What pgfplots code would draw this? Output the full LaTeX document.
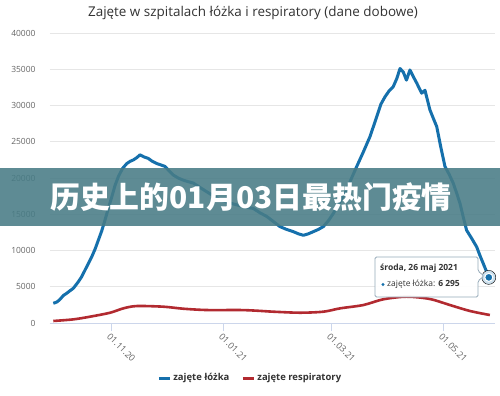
\documentclass[border=0pt]{standalone}
\usepackage{pgfplots}
\pgfplotsset{compat=1.18}
\usepackage{fontspec}
\setmainfont{Open Sans}
\newfontfamily\cjk{Noto Sans CJK SC}
\definecolor{blueL}{RGB}{21,112,172}
\definecolor{redL}{RGB}{178,42,48}
\definecolor{gridc}{RGB}{230,230,230}
\definecolor{axc}{RGB}{204,214,235}
\definecolor{band}{RGB}{72,124,134}
\definecolor{lab}{RGB}{102,102,102}
\definecolor{titc}{RGB}{51,51,51}
\definecolor{legc}{RGB}{51,51,51}
\definecolor{tipc}{RGB}{150,170,185}
\begin{document}
\begin{tikzpicture}[x=1bp,y=1bp]
\useasboundingbox (-50,-72) rectangle (450,323);
\fill[white] (-50,-72) rectangle (450,323);
\begin{axis}[at={(0,0)}, anchor=south west, scale only axis,
  width=445bp, height=290bp,
  xmin=-33.3, xmax=209.4, ymin=0, ymax=40000,
  axis x line*=bottom, axis y line*=left,
  x axis line style={axc, line width=0.8pt},
  y axis line style={draw=none},
  ytick style={draw=none},
  xtick={0,61,120,181},
  xticklabels={01.11.20,01.01.21,01.03.21,01.05.21},
  tick align=outside,
  x tick style={axc, line width=0.8pt},
  major tick length=8bp,
  ytick={0,5000,...,40000},
  scaled y ticks=false,
  ymajorgrids, grid style={gridc, line width=0.7pt},
  /pgf/number format/1000 sep={},
  /pgf/number format/assume math mode=true,
  yticklabel style={font=\fontsize{8.5}{10}\selectfont, text=lab, xshift=-3bp},
  xticklabel style={rotate=-45, anchor=north west, font=\fontsize{9}{10}\selectfont, text=lab, inner sep=1pt},
  clip=false,
  legend style={at={(0.45,-0.19)}, anchor=center, draw=none, fill=none,
    legend columns=2, font=\bfseries\fontsize{9.5}{11}\selectfont, text=legc,
    /tikz/every even column/.append style={column sep=10bp}},
  legend image code/.code={\draw[line width=3bp] (0bp,0bp) -- (11bp,0bp);},
]
\addplot[blueL, line width=3bp, line join=round] coordinates {
(-31.5,2720) (-29.5,2900) (-27.8,3270) (-26,3800) (-24.2,4100) (-22.4,4450)
(-20.6,4780) (-17.8,5700) (-16,6400) (-14.2,7300) (-12.4,8200) (-10.5,9150)
(-8.7,10200) (-6.9,11450) (-5.1,12700) (-3.3,14200) (-1.5,15800) (0.4,17400)
(2.2,19000) (4,20200) (6.2,21300) (8.6,22000) (10.4,22300) (12.2,22500)
(14,22800) (15.8,23200) (18,22900) (20.3,22700) (22.5,22300) (24.9,22000)
(27.2,21800) (29.4,21600) (31.6,21000) (34,20400) (36.6,20000) (39.4,19700)
(42,19500) (44.9,19300) (48.5,18700) (52.2,18100) (56,17500) (59.4,17000)
(64,16600) (68.5,16300) (73,16000) (77.6,15800) (81.2,15200) (84.9,14700)
(88.5,14000) (92.1,13300) (95.8,12900) (99.4,12600) (102.2,12300) (104.9,12100)
(107.6,12300) (110.3,12600) (113,12900) (115.8,13300) (118.5,14100) (121.2,15100)
(124.8,16700) (128.5,18350) (131.2,20000) (134,21600) (137.6,23600) (141.2,25700)
(144.9,28450) (147.2,30200) (149.4,31200) (151.6,32000) (153.9,32600) (155.8,33700)
(157.6,35100) (159.4,34600) (161.1,33500) (163,34900) (164.8,34000) (166.7,33100)
(169.4,31700) (171.2,32100) (173.9,29400) (175.8,28200) (177.6,27100) (179.8,24300)
(182.1,21600) (184.4,20500) (186.6,19300) (188.5,17900) (190.3,16500) (192.1,14600)
(193.9,12800) (196.6,11700) (199.4,10500) (201.2,9300) (203,8200) (204.6,7200) (206,6295)
};
\addlegendentry{zajęte łóżka}
\addplot[redL, line width=2.6bp, line join=round, smooth] coordinates {
(-31.5,280) (-20.6,500) (-11.5,870) (-0.5,1420) (6.7,2020) (14,2340)
(28.5,2250) (39.4,1970) (52.2,1790) (70.3,1790) (79.4,1700) (88.5,1560)
(103,1420) (115.8,1560) (124.9,2020) (137.6,2480) (148.5,3270) (161.2,3630)
(173.9,3310) (184.8,2480) (195.7,1660) (206.6,1100)
};
\addlegendentry{zajęte respiratory}
\addplot[only marks, mark=*, mark size=7bp, mark options={draw=none, fill=blueL!22}, forget plot] coordinates {(206,6295)};
\addplot[only marks, mark=*, mark size=4bp, mark options={draw=white, fill=blueL, line width=1bp}, forget plot] coordinates {(206,6295)};
\end{axis}
% title
\node[font=\fontsize{13.5}{16}\selectfont, text=titc] at (203,310) {Zajęte w szpitalach łóżka i respiratory (dane dobowe)};
% tooltip
\draw[draw=tipc, fill=white, fill opacity=0.92, rounded corners=1.5bp, line width=0.8bp]
  (325,26) -- (325,66) -- (428,66) -- (428,52) -- (434,47) -- (428,42) -- (428,26) -- cycle;
\node[anchor=west, font=\bfseries\fontsize{8.5}{10}\selectfont, text=titc, inner sep=0pt] at (330,55) {środa, 26 maj 2021};
\fill[blueL] (333,38.5) circle (1.6);
\node[anchor=west, font=\fontsize{8.5}{10}\selectfont, text=titc, inner sep=0pt] at (337,38.5) {zajęte łóżka: \textbf{6 295}};
% banner
\fill[band, opacity=0.88] (-50,97) rectangle (450,155);
\node[text=white, font=\cjk\bfseries\fontsize{30}{32}\selectfont, inner sep=0pt] at (201,126) {历史上的01月03日最热门疫情};
\end{tikzpicture}
\end{document}
